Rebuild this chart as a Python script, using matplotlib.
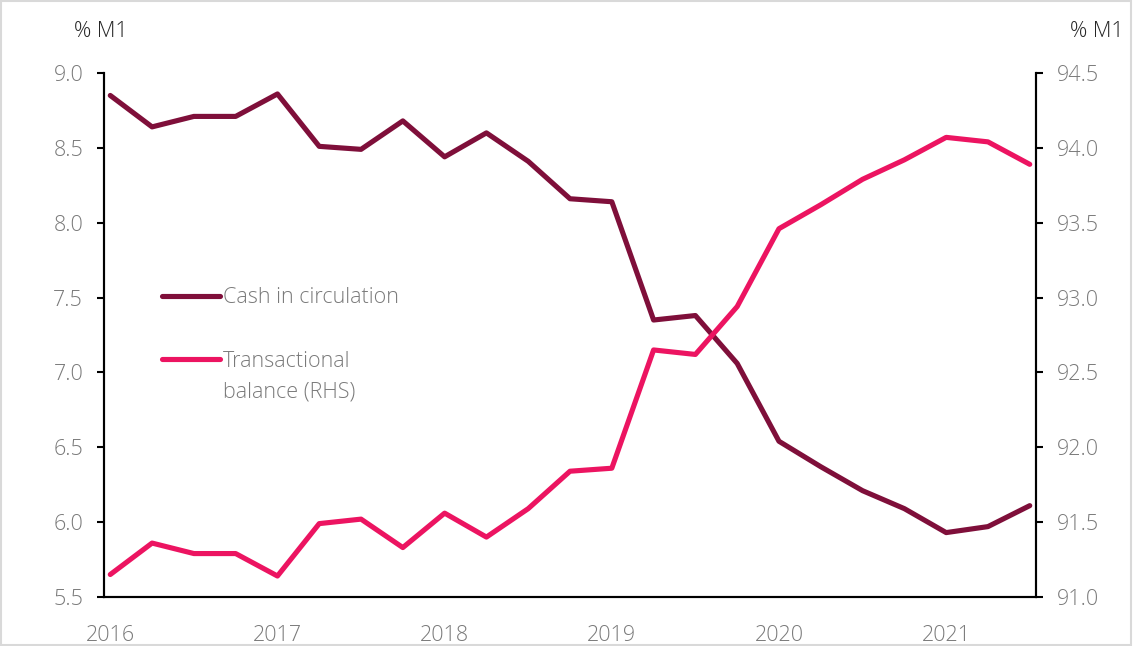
import matplotlib
matplotlib.use("Agg")
import matplotlib.pyplot as plt
from matplotlib.patches import Rectangle

# Quarterly data, 2016 Q1 - 2021 Q3 (% of M1)
quarters = ["2016Q1", "2016Q2", "2016Q3", "2016Q4",
            "2017Q1", "2017Q2", "2017Q3", "2017Q4",
            "2018Q1", "2018Q2", "2018Q3", "2018Q4",
            "2019Q1", "2019Q2", "2019Q3", "2019Q4",
            "2020Q1", "2020Q2", "2020Q3", "2020Q4",
            "2021Q1", "2021Q2", "2021Q3"]
cash = [8.85, 8.64, 8.71, 8.71, 8.86, 8.51, 8.49, 8.68, 8.44, 8.60, 8.41, 8.16,
        8.14, 7.35, 7.38, 7.06, 6.54, 6.37, 6.21, 6.09, 5.93, 5.97, 6.11]
transactional = [91.15, 91.36, 91.29, 91.29, 91.14, 91.49, 91.52, 91.33, 91.56,
                 91.40, 91.59, 91.84, 91.86, 92.65, 92.62, 92.94, 93.46, 93.62,
                 93.79, 93.92, 94.07, 94.04, 93.89]
year_labels = ["2016", "2017", "2018", "2019", "2020", "2021"]

plt.rcParams["font.family"] = ["Open Sans", "DejaVu Sans"]
plt.rcParams["font.weight"] = "light"

maroon = "#7f0f3a"
pink = "#ec1461"
grey = "#7a7a7a"
fs = 15.5

fig = plt.figure(figsize=(11.33, 6.46), dpi=100)
fig.patches.append(Rectangle((0.001, 0.002), 0.997, 0.996, transform=fig.transFigure,
                             fill=False, edgecolor="#d9d9d9", linewidth=1.5))
ax = fig.add_axes([0.0918, 0.0759, 0.8226, 0.8111])
ax2 = ax.twinx()

x = list(range(len(quarters)))
l1, = ax.plot(x, cash, color=maroon, lw=3.7, solid_capstyle="round", solid_joinstyle="round",
              label="Cash in circulation")
l2, = ax2.plot(x, transactional, color=pink, lw=3.7, solid_capstyle="round", solid_joinstyle="round",
               label="Transactional")

ax.set_xlim(-0.15, len(quarters) - 1 + 0.15)
ax.set_ylim(5.5, 9.0)
ax2.set_ylim(91.0, 94.5)
ax.set_yticks([5.5, 6.0, 6.5, 7.0, 7.5, 8.0, 8.5, 9.0])
ax2.set_yticks([91.0, 91.5, 92.0, 92.5, 93.0, 93.5, 94.0, 94.5])
ax.set_yticklabels([f"{v:.1f}" for v in ax.get_yticks()])
ax2.set_yticklabels([f"{v:.1f}" for v in ax2.get_yticks()])
ax.set_xticks(x[::4])
ax.set_xticklabels(year_labels)

for a in (ax, ax2):
    a.spines["top"].set_visible(False)
    for s in a.spines.values():
        s.set_linewidth(1.5)
        s.set_color("black")
    a.tick_params(axis="y", labelsize=fs, labelcolor=grey, length=5, width=1.5, pad=10)
ax.tick_params(axis="x", length=0, labelsize=fs, labelcolor=grey, pad=20)

ax.text(0.025, 1.06, "% M1", transform=ax.transAxes, ha="right", va="bottom",
        fontsize=fs, color="#262626")
ax2.text(1.036, 1.06, "% M1", transform=ax.transAxes, ha="left", va="bottom",
         fontsize=fs, color="#262626")

leg = ax.legend(handles=[l1, l2], loc="upper left", bbox_to_anchor=(0.041, 0.628),
                frameon=False, fontsize=fs, handlelength=2.7, handletextpad=0.15,
                labelspacing=1.97, labelcolor=grey)
# second line of the RHS label sits under "Transactional", handle stays on the first line
ax.annotate("balance (RHS)", xy=(0, 0), xycoords=leg.get_texts()[1],
            xytext=(0, -7), textcoords="offset points", ha="left", va="top",
            fontsize=fs, color=grey, zorder=10)

fig.savefig("out.png", dpi=100)
